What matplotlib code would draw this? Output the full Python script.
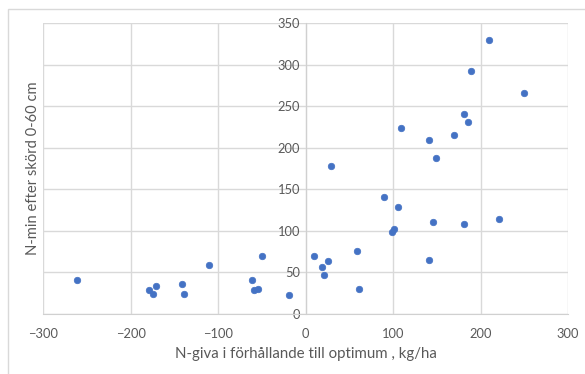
import matplotlib
matplotlib.use("Agg")
import matplotlib.pyplot as plt
from matplotlib.patches import Rectangle

n_giva = [-261, -179, -174, -171, -141, -139, -110, -61, -59, -54, -50, -19,
          10, 19, 21, 26, 29, 59, 61, 90, 99, 101, 106, 109, 141, 141, 146, 149,
          170, 181, 181, 186, 189, 210, 221, 250]
n_min = [40, 29, 24, 33, 36, 24, 59, 41, 28, 30, 70, 22,
         69, 56, 47, 63, 178, 76, 30, 141, 98, 102, 128, 224, 209, 65, 110, 188,
         215, 240, 108, 231, 292, 329, 114, 266]
x_ticks = [-300, -200, -100, 0, 100, 200, 300]
y_ticks = [0, 50, 100, 150, 200, 250, 300, 350]

plt.rcParams['font.family'] = ['Lato', 'DejaVu Sans']
fig = plt.figure(figsize=(5.85, 3.74), dpi=100)
fig.patch.set_facecolor('white')
fig.patches.append(Rectangle((7.5/585, -0.2), 1.2, 1.2 - 8.7/374, transform=fig.transFigure,
                             fill=False, edgecolor='#d9d9d9', linewidth=1.0))
ax = fig.add_axes([43.3/585, (374-313.7)/374, (568-43.3)/585, (313.7-23)/374])

ax.scatter(n_giva, n_min, s=22, color='#4472C4', edgecolor='#4472C4', linewidth=0.5, zorder=3)

ax.set_xlim(-300, 300)
ax.set_ylim(0, 350)
ax.set_xticks(x_ticks)
ax.set_yticks(y_ticks)
ax.grid(True, color='#d9d9d9', linewidth=1.0, zorder=0)
for s in ax.spines.values():
    s.set_visible(False)
ax.spines['left'].set_visible(True)
ax.spines['left'].set_position(('data', 0))
ax.spines['left'].set_color('#d0d0d0')
ax.spines['bottom'].set_visible(True)
ax.spines['bottom'].set_color('#d0d0d0')
ax.tick_params(axis='both', length=0, labelsize=9.3, labelcolor='#595959')
ax.tick_params(axis='x', pad=10)
ax.tick_params(axis='y', pad=4)

fig.text(33/585, 1 - 168/374, 'N-min efter skörd 0-60 cm', rotation=90, ha='center', va='center',
         fontsize=10.6, color='#595959')
fig.text(306/585, 1 - 354/374, 'N-giva i förhållande till optimum , kg/ha', ha='center', va='center',
         fontsize=10.8, color='#595959')

fig.savefig('out.png', dpi=100)
